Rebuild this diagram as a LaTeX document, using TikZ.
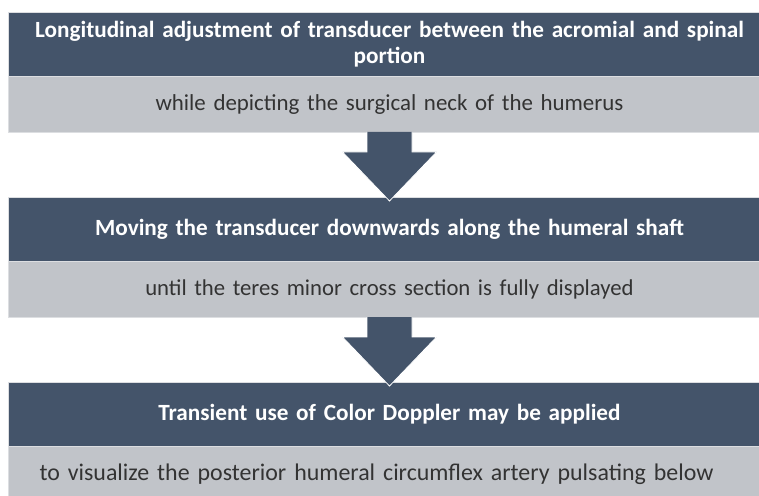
\documentclass[tikz,border=0pt]{standalone}
\usepackage{fontspec}
\setmainfont{Carlito}
\usepackage{xcolor}
\usetikzlibrary{positioning,calc}

\definecolor{slate}{HTML}{44546A}
\definecolor{mist}{HTML}{C1C4C9}
\definecolor{rim}{HTML}{DCDEE1}

\tikzset{
  titlebox/.style={fill=slate, draw=rim, line width=0.8bp, outer sep=0pt,
    minimum width=762bp, minimum height=64.5bp, text width=750bp, align=center,
    text=white, font=\fontsize{#1}{26}\selectfont\bfseries, inner sep=0pt},
  titlebox/.default=23.3,
  notebox/.style={fill=mist, draw=rim, line width=0.8bp, outer sep=0pt,
    minimum width=762bp, minimum height=55.5bp, text width=730bp, align=center,
    text=black!80, font=\fontsize{#1}{27}\selectfont, inner sep=0pt},
  notebox/.default=23,
  blockarrow/.style={fill=slate, draw=white, line width=0.8bp, line join=miter}
}

\begin{document}
\begin{tikzpicture}[x=1bp,y=-1bp]
\useasboundingbox (0,0) rectangle (759,496);
\clip (0,0) rectangle (759,496);

% step one
\node[titlebox] (t1) at (389.5,44.25) {Longitudinal adjustment of transducer between the acromial and spinal\\portion};
\node[notebox, below=0pt of t1] (n1) {while depicting the surgical neck of the humerus};

% step two
\node[titlebox, below=65bp of n1] (t2) {Moving the transducer downwards along the humeral shaft};
\node[notebox=22.8, below=0pt of t2] (n2) {until the teres minor cross section is fully displayed};

% step three
\node[titlebox, below=65bp of n2] (t3) {Transient use of Color Doppler may be applied};
\node[notebox=24, below=0pt of t3] (n3) {\hspace*{-26bp}to visualize the posterior humeral circumflex artery pulsating below};

% arrows between steps
\foreach \a/\b in {n1/t2, n2/t3}{
  \filldraw[blockarrow] ($(\a.south)+(-22.5,0)$) -- ++(0,20) -- ++(-24.5,0)
    -- ($(\b.north)+(0,4)$) -- ($(\a.south)+(47,20)$) -- ++(-24.5,0)
    -- ($(\a.south)+(22.5,0)$);
}
\end{tikzpicture}
\end{document}
